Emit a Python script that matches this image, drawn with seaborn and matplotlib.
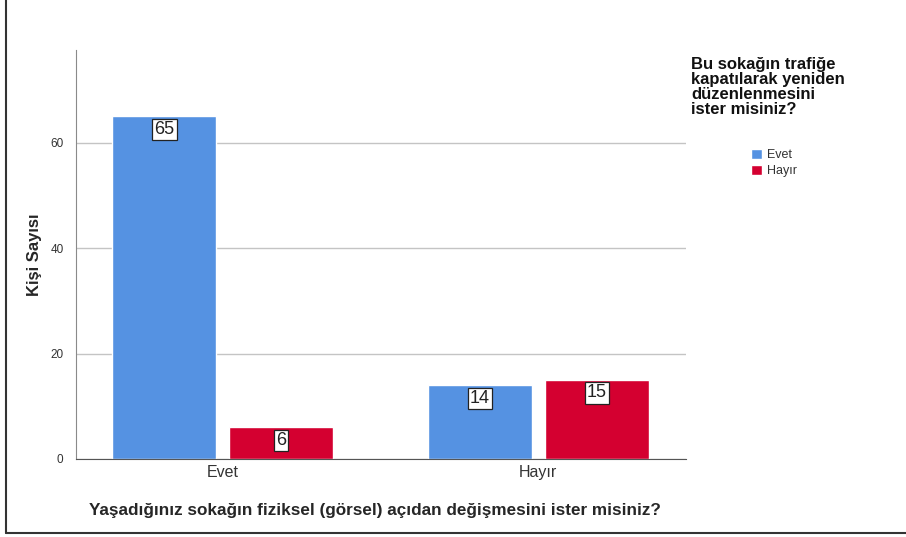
import pandas as pd
import matplotlib.pyplot as plt
import seaborn as sns
from matplotlib.lines import Line2D

# data
groups = ["Evet", "Evet", "Hayır", "Hayır"]
answers = ["Evet", "Hayır", "Evet", "Hayır"]
counts = [65, 6, 14, 15]

x_title = "Yaşadığınız sokağın fiziksel (görsel) açıdan değişmesini ister misiniz?"
y_title = "Kişi Sayısı"
legend_title = "Bu sokağın trafiğe\nkapatılarak yeniden\ndüzenlenmesini\nister misiniz?"

df = pd.DataFrame({"grup": groups, "cevap": answers, "sayi": counts})

sns.set_style("white")
plt.rcParams["font.family"] = ["Liberation Sans", "DejaVu Sans"]

fig = plt.figure(figsize=(9.06, 5.37), dpi=100)
ax = fig.add_axes([0.0839, 0.1453, 0.6733, 0.7616])

sns.barplot(data=df, x="grup", y="sayi", hue="cevap",
            palette={"Evet": "#5592E2", "Hayır": "#D40030"},
            width=0.74, gap=0.11, saturation=1, errorbar=None, ax=ax)

ax.set_ylim(0, 77.6)
ax.set_xlim(-0.465, 1.468)
ax.set_yticks([0, 20, 40, 60])
ax.yaxis.grid(True, color="#c4c4c4", linewidth=1)
ax.set_axisbelow(True)
for s in ["top", "right"]:
    ax.spines[s].set_visible(False)
ax.spines["left"].set_color("#8a8a8a")
ax.spines["bottom"].set_color("#555555")
ax.tick_params(axis="y", length=0, pad=9, labelsize=8.5, labelcolor="#333333")
ax.tick_params(axis="x", length=0, pad=4, labelsize=11.5, labelcolor="#333333")

ax.set_xlabel(x_title, fontsize=12.3, fontweight="bold")
ax.xaxis.set_label_coords(0.49, -0.108)
ax.set_ylabel(y_title, fontsize=12, fontweight="bold")
ax.yaxis.set_label_coords(-0.055, 0.5)

# value boxes just under the top of each bar
for cont in ax.containers:
    for bar in cont:
        h = bar.get_height()
        ax.annotate(f"{h:.0f}", (bar.get_x() + bar.get_width() / 2, h),
                    xytext=(0, -13), textcoords="offset pixels",
                    ha="center", va="center", fontsize=13, color="#222222",
                    bbox=dict(boxstyle="square,pad=0.12", fc="white", ec="#222222", lw=0.9))

# legend: title as its own text block, entries below it
fig.text(0.763, 1 - 57 / 537, legend_title, ha="left", va="top",
         fontsize=12, fontweight="bold", linespacing=1.0, color="#111111")
leg = ax.legend(title=None, loc="upper left", bbox_to_anchor=(0.829, 1 - 149 / 537),
                bbox_transform=fig.transFigure, frameon=False, fontsize=9,
                handlelength=0.85, handleheight=0.85, handletextpad=0.4,
                labelspacing=0.3, borderpad=0, borderaxespad=0)
for t in leg.get_texts():
    t.set_color("#333333")

# outer frame lines of the original output
fig.add_artist(Line2D([0.0066, 0.0066], [0.0074, 1.0], transform=fig.transFigure,
                      color="#333333", linewidth=1.5))
fig.add_artist(Line2D([0.0066, 1.0], [0.0074, 0.0074], transform=fig.transFigure,
                      color="#333333", linewidth=1.5))

fig.savefig("out.png", dpi=100)
